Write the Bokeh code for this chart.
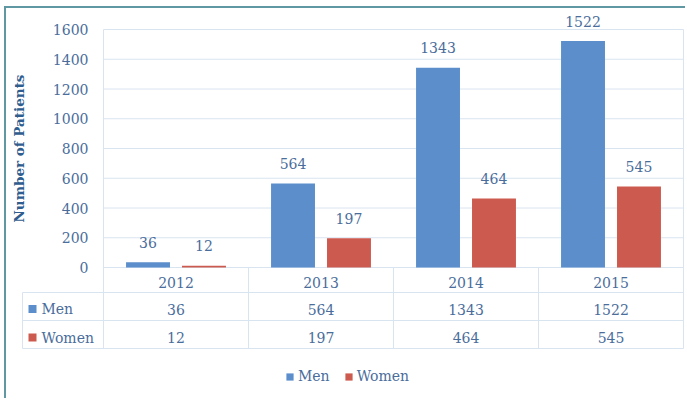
from bokeh.plotting import figure
from bokeh.models import (ColumnDataSource, Range1d, LinearAxis, FixedTicker,
                          Legend, LegendItem)
from bokeh.core.properties import value
from bokeh.embed import file_html
from bokeh.resources import INLINE

# ---------------- data ----------------
years = ["2012", "2013", "2014", "2015"]
men = [36, 564, 1343, 1522]
women = [12, 197, 464, 545]
series_names = ["Men", "Women"]
y_ticks = [0, 200, 400, 600, 800, 1000, 1200, 1400, 1600]

# ---------------- style ----------------
MEN_COLOR = "#5b8ecb"
WOMEN_COLOR = "#cd5a4f"
TEXT_COLOR = "#4a6d9b"
TITLE_COLOR = "#2f5d8e"
LINE_COLOR = "#d9e4f1"
FRAME_COLOR = "#5f97a3"
FONT = "DejaVu Serif"
FS = "14px"

W, H = 681, 392
CAT_PX = 145.0          # width of one category column in pixels
LEFT_COL_PX = 81        # width of the table's label column
LEFT_GAP_PX = 13        # gap between frame edge and table's left border
PAD_L, PAD_R, PAD_T, PAD_B = 3, 2, 4, 2
PX_PER_UNIT = 29.75 / 200.0
ZERO_FROM_TOP = 255     # pixels from frame top down to value 0
U = 1.0 / PX_PER_UNIT   # data units per pixel

frame_w = W - PAD_L - PAD_R
frame_h = H - PAD_T - PAD_B
x_start = -(LEFT_COL_PX + LEFT_GAP_PX) / CAT_PX
x_end = x_start + frame_w / CAT_PX
y_end = ZERO_FROM_TOP * U
y_start = -(frame_h - ZERO_FROM_TOP) * U

n = len(years)
xc = [i + 0.5 for i in range(n)]
DODGE = 0.193
BAR_W = 0.303

row_lines = [-25 * U, -53 * U, -81 * U]
MEN_ROW_Y = -41.5 * U
WOMEN_ROW_Y = -70 * U
x_left = -LEFT_COL_PX / CAT_PX
sq_x = -71 / CAT_PX
lbl_x = -62 / CAT_PX

src = ColumnDataSource(dict(
    year=years, x=xc,
    xm=[x - DODGE for x in xc], xw=[x + DODGE for x in xc],
    men=men, women=women,
    men_txt=[str(v) for v in men], women_txt=[str(v) for v in women],
    men_row=[MEN_ROW_Y] * n, women_row=[WOMEN_ROW_Y] * n,
))

p = figure(width=W, height=H, x_range=Range1d(x_start, x_end),
           y_range=Range1d(y_start, y_end), output_backend="svg",
           toolbar_location=None, x_axis_location=None, y_axis_location=None,
           min_border_left=PAD_L, min_border_right=PAD_R,
           min_border_top=PAD_T, min_border_bottom=PAD_B)
p.grid.visible = False
p.outline_line_color = None
p.background_fill_color = "white"
p.border_fill_color = "white"
p.styles = {"margin-left": "4px", "margin-top": "6px",
            "border-left": f"2px solid {FRAME_COLOR}",
            "border-top": f"2px solid {FRAME_COLOR}"}

# grid lines of the chart area
p.segment(x0=[0] * len(y_ticks), y0=y_ticks, x1=[n] * len(y_ticks), y1=y_ticks,
          line_color=LINE_COLOR, line_width=1)
# vertical lines (chart border + table columns)
p.segment(x0=list(range(n + 1)), y0=[row_lines[-1]] * (n + 1),
          x1=list(range(n + 1)),
          y1=[y_ticks[-1] if i in (0, n) else 0 for i in range(n + 1)],
          line_color=LINE_COLOR, line_width=1)
# table horizontal lines
p.segment(x0=[x_left] * len(row_lines), y0=row_lines, x1=[n] * len(row_lines),
          y1=row_lines, line_color=LINE_COLOR, line_width=1)
# table label-column left border
p.segment(x0=[x_left], y0=[row_lines[0]], x1=[x_left], y1=[row_lines[-1]],
          line_color=LINE_COLOR, line_width=1)

# bars
r_men = p.vbar(x="xm", top="men", bottom=0, width=BAR_W, source=src,
               fill_color=MEN_COLOR, line_color=None)
r_women = p.vbar(x="xw", top="women", bottom=0, width=BAR_W, source=src,
                 fill_color=WOMEN_COLOR, line_color=None)

txt_kw = dict(text_font=value(FONT), text_font_size=FS, text_color=TEXT_COLOR,
              text_baseline="middle")
# value labels above bars
p.text(x="xm", y="men", text="men_txt", source=src, text_align="center",
       y_offset=-20, **txt_kw)
p.text(x="xw", y="women", text="women_txt", source=src, text_align="center",
       y_offset=-20, **txt_kw)

# table cells
p.text(x="x", y="men_row", text="men_txt", source=src, text_align="center", **txt_kw)
p.text(x="x", y="women_row", text="women_txt", source=src, text_align="center", **txt_kw)

# table row labels
p.scatter(x=[sq_x, sq_x], y=[MEN_ROW_Y, WOMEN_ROW_Y], marker="square", size=8,
          fill_color=[MEN_COLOR, WOMEN_COLOR], line_color=None)
p.text(x=[lbl_x, lbl_x], y=[MEN_ROW_Y, WOMEN_ROW_Y], text=series_names,
       text_align="left", **txt_kw)

# y axis
yaxis = LinearAxis(ticker=FixedTicker(ticks=y_ticks), fixed_location=0,
                   bounds=(y_ticks[0], y_ticks[-1]),
                   axis_label="Number of Patients")
yaxis.axis_line_color = None
yaxis.major_tick_line_color = None
yaxis.minor_tick_line_color = None
yaxis.major_label_standoff = 9
yaxis.major_label_text_font = FONT
yaxis.major_label_text_font_size = FS
yaxis.major_label_text_color = TEXT_COLOR
yaxis.axis_label_text_font = FONT
yaxis.axis_label_text_font_style = "bold"
yaxis.axis_label_text_font_size = "13.5px"
yaxis.axis_label_text_color = TITLE_COLOR
yaxis.axis_label_standoff = 23
p.add_layout(yaxis, "left")

# x axis (header row of the table)
xaxis = LinearAxis(ticker=FixedTicker(ticks=xc), fixed_location=0,
                   major_label_overrides={x: y for x, y in zip(xc, years)})
xaxis.axis_line_color = None
xaxis.major_tick_line_color = None
xaxis.minor_tick_line_color = None
xaxis.major_label_standoff = 3
xaxis.major_label_text_font = FONT
xaxis.major_label_text_font_size = FS
xaxis.major_label_text_color = TEXT_COLOR
p.add_layout(xaxis, "below")

legend = Legend(items=[LegendItem(label=series_names[0], renderers=[r_men]),
                       LegendItem(label=series_names[1], renderers=[r_women])],
                orientation="horizontal", location=(276, 14),
                glyph_width=9, glyph_height=9, label_standoff=4, spacing=14,
                padding=0, margin=0, border_line_color=None,
                background_fill_alpha=0, label_text_font=FONT,
                label_text_font_size=FS, label_text_color=TEXT_COLOR,
                label_height=14)
p.add_layout(legend)

open("out.html", "w").write(file_html(p, INLINE))
